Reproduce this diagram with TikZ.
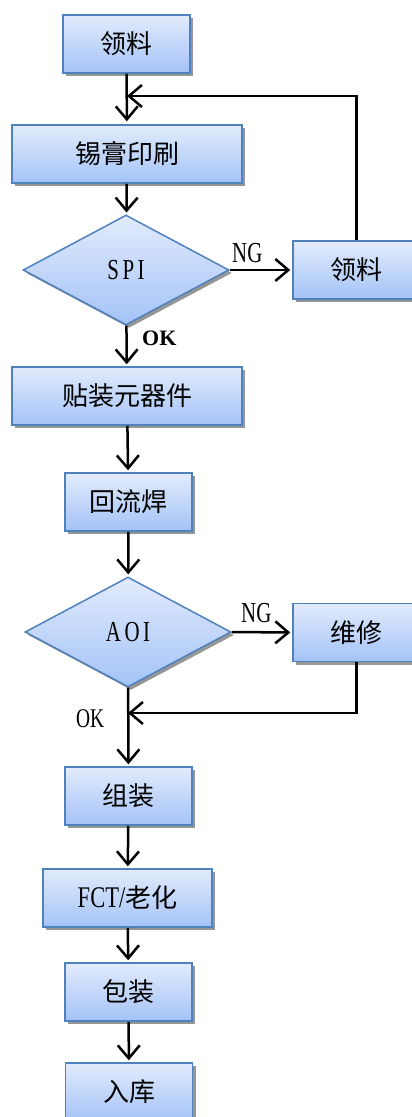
\documentclass[tikz,border=0pt]{standalone}
\usepackage{fontspec}
\setmainfont{Liberation Serif}
\newfontfamily\cjk{Noto Sans CJK SC}
\usetikzlibrary{shapes.geometric,arrows.meta,shadows}
\definecolor{boxtop}{RGB}{226,235,252}
\definecolor{boxbot}{RGB}{163,195,247}
\definecolor{boxline}{RGB}{79,129,189}
\definecolor{shad}{RGB}{150,150,150}
\tikzset{
  procbox/.style={rectangle, draw=boxline, line width=1.5pt, top color=boxtop, bottom color=boxbot,
    minimum height=58pt, inner sep=0pt, font=\cjk\fontsize{26}{28}\selectfont,
    drop shadow={shadow xshift=3pt, shadow yshift=-3pt, fill=shad, opacity=1}},
  decision/.style={diamond, draw=boxline, line width=1.5pt, top color=boxtop, bottom color=boxbot,
    minimum width=206pt, minimum height=110pt, inner sep=0pt, font=\fontsize{29}{30}\selectfont,
    drop shadow={shadow xshift=3pt, shadow yshift=-3pt, fill=shad, opacity=1}},
  flow/.style={draw=black, line width=2.5pt, -{Straight Barb[length=13pt,width=22pt,line width=2.5pt]}},
  lbl/.style={font=\fontsize{29}{30}\selectfont, inner sep=0pt}
}
\begin{document}
\begin{tikzpicture}[x=1pt,y=-1pt]
\useasboundingbox (0,0) rectangle (412,1117);
\begin{scope}
\clip (0,0) rectangle (412,1117);
\node[procbox, minimum width=127pt] (n1) at (126.5,44) {领料};
\node[procbox, minimum width=230pt] (n2) at (127,154) {锡膏印刷};
\node[decision] (spi) at (126,270) {\scalebox{0.72}[1]{S\,P\,I}};
\node[procbox, minimum width=127pt] (ng1) at (356.5,270) {领料};
\node[procbox, minimum width=230pt] (n3) at (127,396) {贴装元器件};
\node[procbox, minimum width=127pt] (n4) at (128.5,502) {回流焊};
\node[decision] (aoi) at (128,632) {\scalebox{0.72}[1]{A\,O\,I}};
\node[procbox, minimum width=127pt] (ng2) at (356.5,632.5) {维修};
\node[procbox, minimum width=127pt] (n5) at (128.5,796) {组装};
\node[procbox, minimum width=169pt] (n6) at (127.5,898) {\scalebox{0.75}[1]{\fontspec{Liberation Serif}\fontsize{30}{30}\selectfont FCT/}老化};
\node[procbox, minimum width=127pt] (n7) at (128.5,992) {包装};
\node[procbox, minimum width=127pt] (n8) at (129,1092) {入库};

\coordinate (fb1) at (127,96);
\coordinate (fb2) at (128,713);

\draw[flow, shorten >=3pt] (n1) -- (n2);
\draw[flow, shorten >=2pt] (n2) -- (spi);
\draw[flow, shorten >=2pt] (spi) -- (n3);
\draw[flow, shorten >=2pt] (n3) -- (n4);
\draw[flow, shorten >=2pt] (n4) -- (aoi);
\draw[flow, shorten >=2pt] (aoi) -- (n5);
\draw[flow, shorten >=2pt] (n5) -- (n6);
\draw[flow, shorten >=2pt] (n6) -- (n7);
\draw[flow, shorten >=2pt] (n7) -- (n8);
\draw[flow, shorten >=2pt] (spi.east) -- (ng1.west);
\draw[flow, shorten >=2pt] (aoi.east) -- (ng2.west);
\draw[flow] (ng1.north) |- (fb1);
\draw[flow] (ng2.south) |- (fb2);

\node[lbl, anchor=base west] (ngl1) at (232,262) {\scalebox{0.72}[1]{NG}};
\node[lbl, anchor=base west] (okl1) at (142,345) {\fontsize{22}{24}\selectfont\bfseries OK};
\node[lbl, anchor=base west] (ngl2) at (241,622) {\scalebox{0.72}[1]{NG}};
\node[lbl, anchor=base west] (okl2) at (76,727) {\scalebox{0.72}[1]{\fontsize{27}{28}\selectfont OK}};
\end{scope}
\end{tikzpicture}
\end{document}
